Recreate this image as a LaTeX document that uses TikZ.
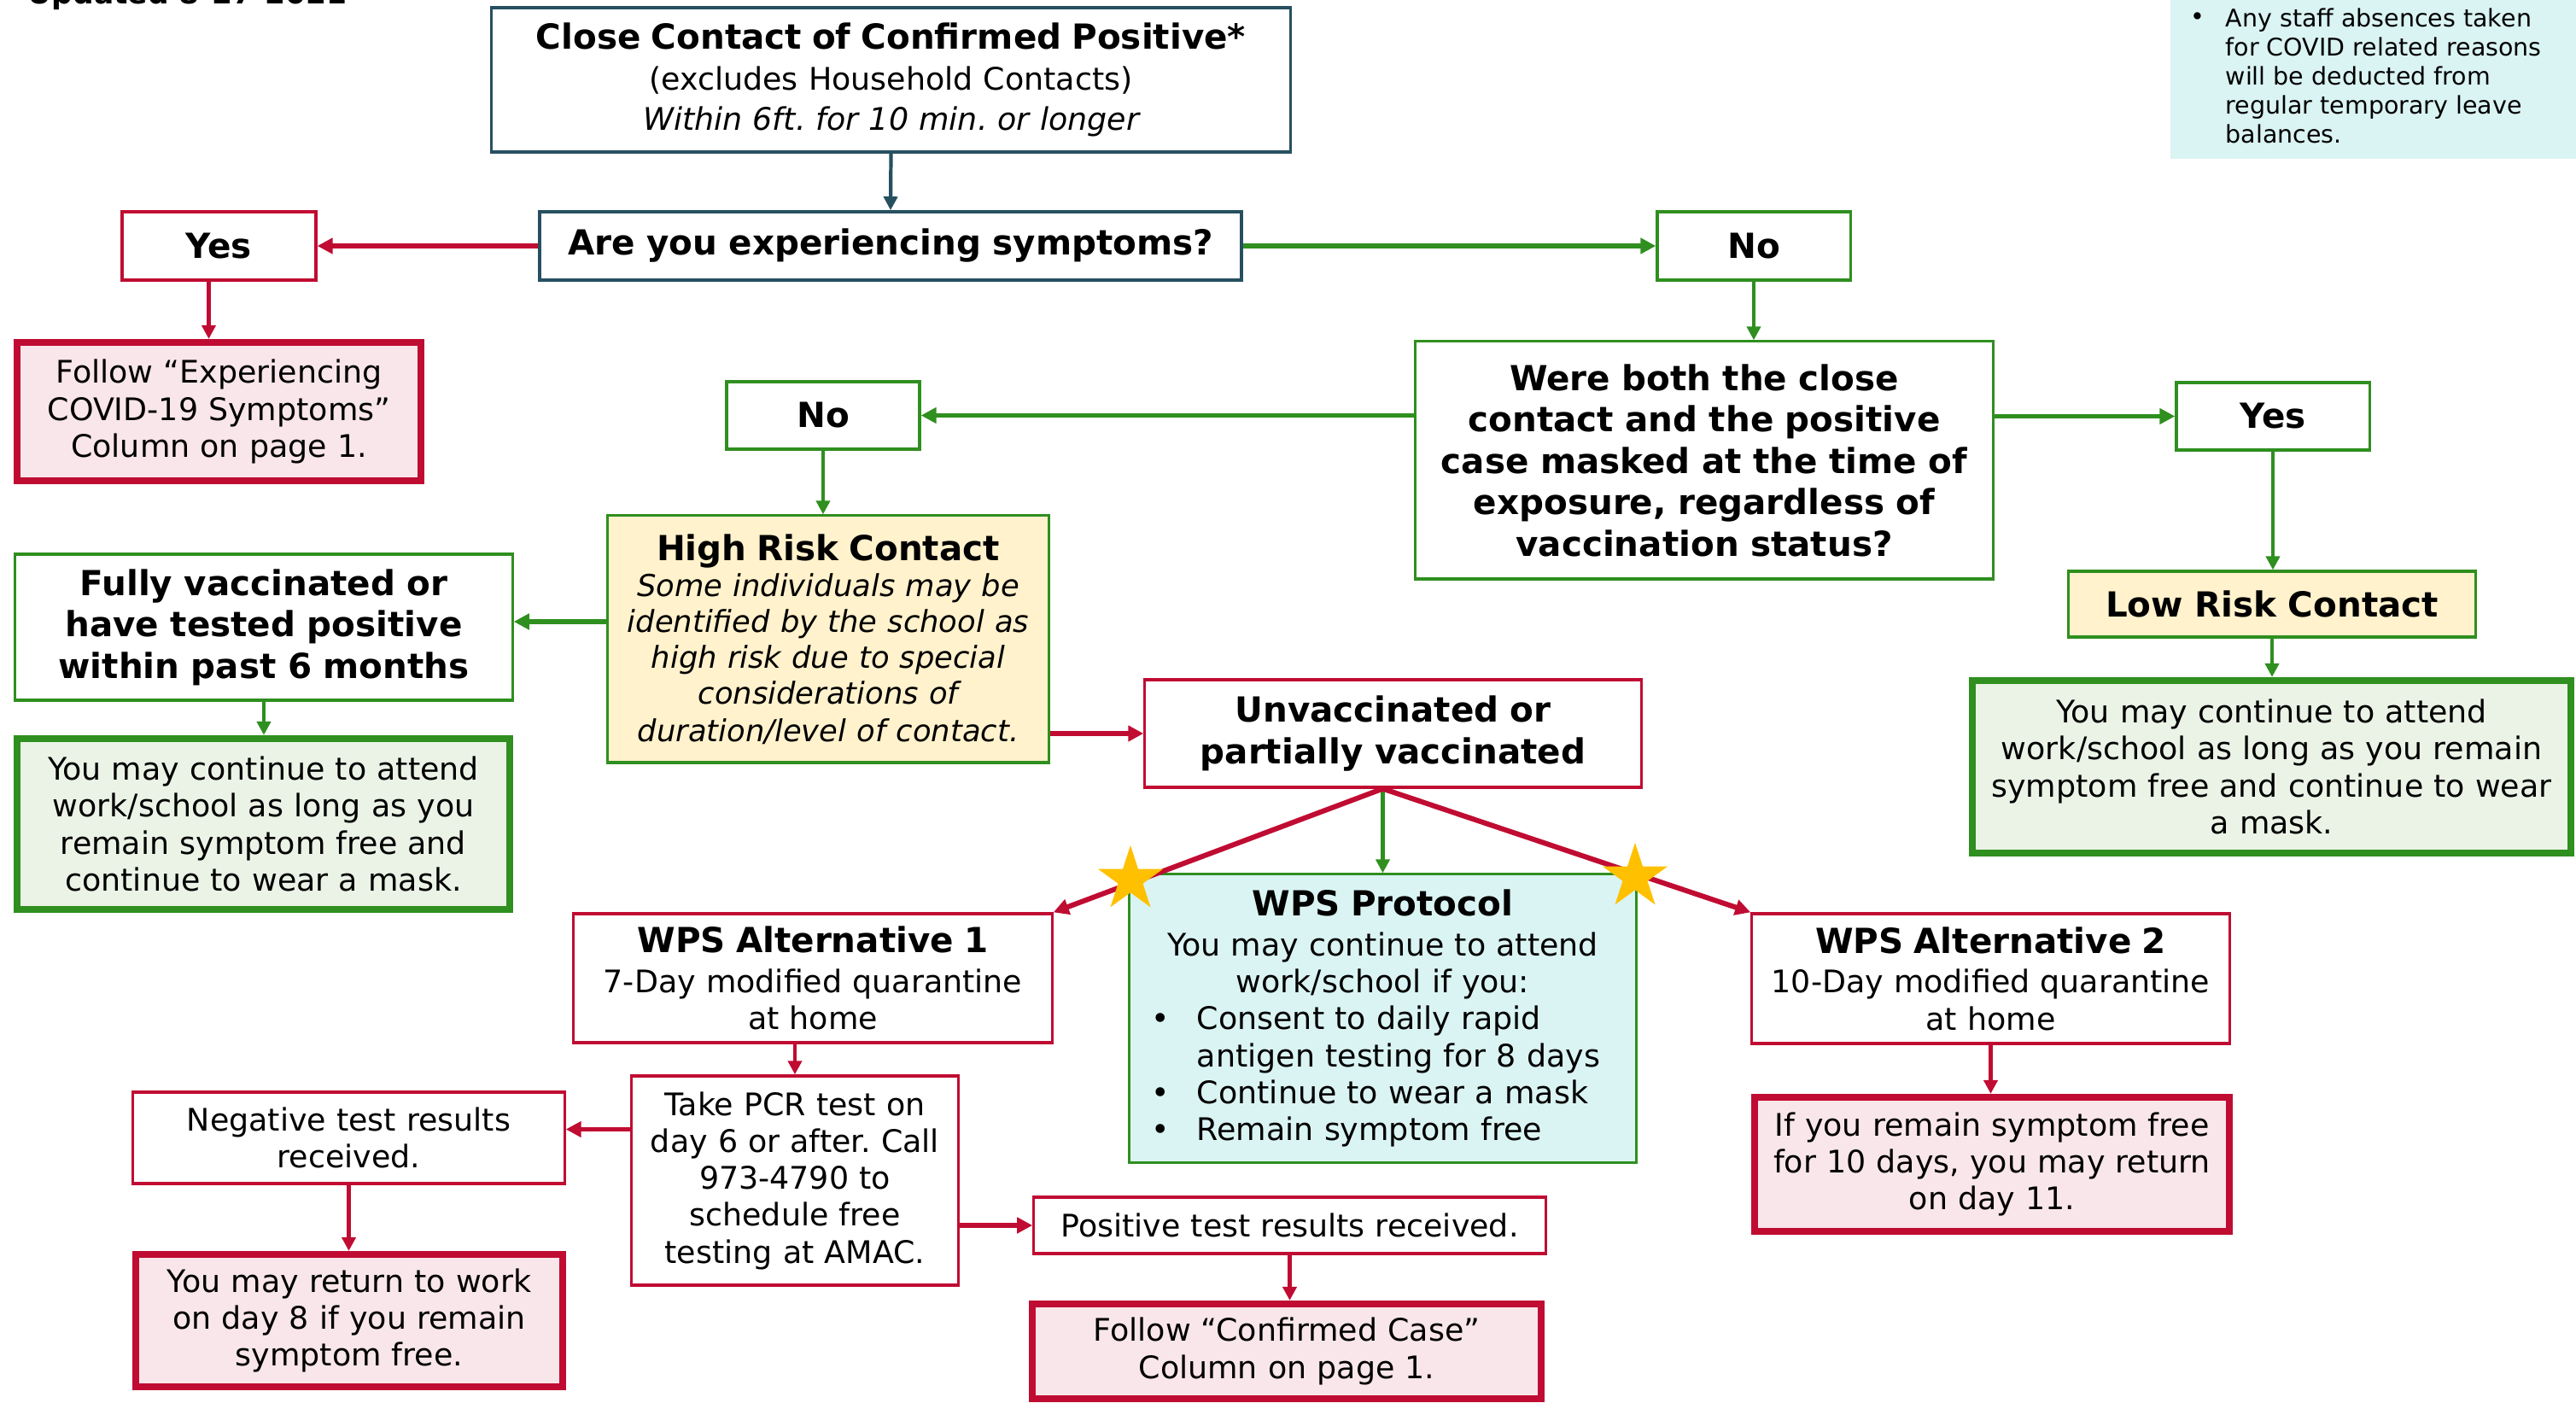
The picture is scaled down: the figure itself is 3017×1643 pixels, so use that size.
\documentclass[tikz,border=0pt]{standalone}
\usepackage{fontspec}
\setmainfont{DejaVu Sans}
\usetikzlibrary{arrows.meta,shapes.geometric}
\definecolor{cred}{RGB}{192,12,50}
\definecolor{cgreen}{RGB}{47,143,31}
\definecolor{cteal}{RGB}{38,80,96}
\definecolor{cpink}{RGB}{248,230,234}
\definecolor{clgreen}{RGB}{235,243,231}
\definecolor{cyellow}{RGB}{255,242,204}
\definecolor{ccyan}{RGB}{218,244,243}
\definecolor{cgold}{RGB}{255,192,0}
\newcommand\hdf{\fontsize{11.5}{13.8}\selectfont\bfseries}
\newcommand\bdf{\fontsize{10.35}{12.3}\selectfont}
\newcommand\itf{\fontsize{10.05}{12}\selectfont\itshape}
\newcommand\ntf{\fontsize{8.1}{9.7}\selectfont}
\frenchspacing
\tikzset{
  bx/.style 2 args={minimum width=#1cm, minimum height=#2cm, text width=#1cm,
     inner sep=0pt, align=center, font=\bdf},
  thinred/.style={draw=cred, line width=0.9pt, fill=white},
  thingreen/.style={draw=cgreen, line width=0.9pt, fill=white},
  thinteal/.style={draw=cteal, line width=1pt, fill=white},
  resred/.style={draw=cred, line width=2.3pt, fill=cpink},
  resgreen/.style={draw=cgreen, line width=2.3pt, fill=clgreen},
  yellowbox/.style={draw=cgreen, line width=0.9pt, fill=cyellow},
  cyanbox/.style={draw=cgreen, line width=0.9pt, fill=ccyan},
  arrh/.style={-{Triangle[length=0.18cm,width=0.18cm]}, line width=1.7pt},
  arrv/.style={-{Triangle[length=0.16cm,width=0.16cm]}, line width=1.2pt},
  goldstar/.style={star, star points=5, star point ratio=2.618, fill=cgold,
     inner sep=0pt, minimum size=0.8cm}
}
\begin{document}
\begin{tikzpicture}[x=0.01cm,y=-0.01cm]
\useasboundingbox (0,0) rectangle (3017,1643);

% header and note
\node[anchor=base west, inner sep=0pt, font=\fontsize{9.8}{12}\selectfont\bfseries] (upd) at (32,5) {Updated 8-27-2021};
\node[fill=ccyan, minimum width=4.75cm, minimum height=2.06cm, inner sep=0pt] (note) at (2779.5,83) {};
\node[anchor=base west, inner sep=0pt, font=\ntf] (notebul) at (2565,30) {•};
\node[anchor=north west, inner sep=0pt, align=left, font=\ntf] (notetxt) at (2606,9)
  {Any staff absences taken\\for COVID related reasons\\will be deducted from\\regular temporary leave\\balances.};

% boxes
\node[bx={9.35}{1.69}, thinteal] (top) at (1043.5,93.5)
  {{\hdf Close Contact of Confirmed Positive*}\\[1.3pt](excludes Household Contacts)\\[1.3pt]\itshape Within 6ft. for 10 min. or longer};
\node[bx={8.22}{0.80}, thinteal, font=\hdf] (sym) at (1043,288) {Are you experiencing symptoms?};
\node[bx={2.27}{0.80}, thinred, font=\hdf] (yes1) at (256.5,288) {Yes};
\node[bx={4.73}{1.62}, resred] (fol1) at (256.5,482) {Follow “Experiencing\\COVID-19 Symptoms”\\Column on page 1.};
\node[bx={2.26}{0.80}, thingreen, font=\hdf] (no1) at (2054,288) {No};
\node[bx={6.76}{2.78}, thingreen, font=\hdf] (were) at (1996,539)
  {Were both the close\\contact and the positive\\case masked at the time of\\exposure, regardless of\\vaccination status?\\[0.1cm]};
\node[bx={2.26}{0.79}, thingreen, font=\hdf] (no2) at (964,486.5) {No};
\node[bx={2.26}{0.79}, thingreen, font=\hdf] (yes2) at (2662,487.5) {Yes};
\node[bx={4.76}{0.77}, yellowbox, font=\hdf] (low) at (2661,707.5) {Low Risk Contact};
\node[bx={7.01}{2.02}, resgreen] (lowres) at (2660.5,898)
  {You may continue to attend\\work/school as long as you remain\\symptom free and continue to wear\\a mask.\\[0.1cm]};
\node[bx={5.16}{2.89}, yellowbox] (high) at (970,748.5)
  {{\hdf High Risk Contact}\\\itf Some individuals may be\\identified by the school as\\high risk due to special\\considerations of\\duration/level of contact.};
\node[bx={5.82}{1.71}, thingreen, font=\hdf] (fully) at (309,734.5)
  {Fully vaccinated or\\have tested positive\\within past 6 months};
\node[bx={5.77}{2.00}, resgreen] (fullres) at (308.5,965)
  {You may continue to attend\\work/school as long as you\\remain symptom free and\\continue to wear a mask.};
\node[bx={5.81}{1.26}, thinred, font=\hdf] (unv) at (1631.5,859) {Unvaccinated or\\partially vaccinated};
\node[bx={5.93}{3.37}, cyanbox, align=left, text width=5.41cm, inner xsep=0.26cm] (wps) at (1619.5,1192.5)
  {{\centering{\hdf WPS Protocol}\\[1pt]You may continue to attend\\work/school if you:\par}
   \makebox[0.53cm][l]{•}Consent to daily rapid\\
   \hspace*{0.53cm}antigen testing for 8 days\\
   \makebox[0.53cm][l]{•}Continue to wear a mask\\
   \makebox[0.53cm][l]{•}Remain symptom free};
\node[bx={5.60}{1.51}, thinred] (alt1) at (952,1145.5)
  {{\hdf WPS Alternative 1}\\[1pt]7-Day modified quarantine\\at home};
\node[bx={5.59}{1.52}, thinred] (alt2) at (2331.5,1146)
  {{\hdf WPS Alternative 2}\\[1pt]10-Day modified quarantine\\at home};
\node[bx={5.56}{1.57}, resred] (alt2res) at (2333,1363.5)
  {If you remain symptom free\\for 10 days, you may return\\on day 11.};
\node[bx={3.82}{2.45}, thinred] (pcr) at (931,1382.5)
  {Take PCR test on\\day 6 or after. Call\\973-4790 to\\schedule free\\testing at AMAC.};
\node[bx={5.05}{1.07}, thinred] (neg) at (408.5,1332.5) {Negative test results\\received.};
\node[bx={5.00}{1.55}, resred] (ret) at (409,1546.5)
  {You may return to work\\on day 8 if you remain\\symptom free.};
\node[bx={5.99}{0.66}, thinred] (pos) at (1510.5,1435) {Positive test results received.};
\node[bx={5.96}{1.11}, resred] (conf) at (1507,1582.5) {Follow “Confirmed Case”\\Column on page 1.};

% connectors
\draw[arrv, cteal] (top.south) -- (sym.north);
\draw[arrh, cred] (sym.west) -- (yes1.east);
\draw[arrv, cred] ([xshift=-0.12cm]yes1.south) -- ([xshift=-0.12cm]fol1.north);
\draw[arrh, cgreen] (sym.east) -- (no1.west);
\draw[arrv, cgreen] (no1.south) -- (no1.south |- were.north);
\draw[arrh, cgreen] (were.west |- no2.east) -- (no2.east);
\draw[arrh, cgreen] (were.east |- yes2.west) -- (yes2.west);
\draw[arrv, cgreen] (no2.south) -- (no2.south |- high.north);
\draw[arrv, cgreen] (yes2.south) -- (yes2.south |- low.north);
\draw[arrv, cgreen] (low.south) -- (low.south |- lowres.north);
\coordinate (fin) at ([yshift=0.065cm]fully.east);
\draw[arrh, cgreen] (high.west |- fin) -- (fin);
\draw[arrv, cgreen] (fully.south) -- (fully.south |- fullres.north);
\draw[arrh, cred] (high.east |- unv.west) -- (unv.west);
\coordinate (split) at (wps.north |- unv.south);
\draw[arrv, cgreen] (split) -- (wps.north);
\draw[arrh, cred] (split) -- (alt1.north east);
\draw[arrh, cred] (split) -- (alt2.north west);
\draw[arrv, cred] (pcr.north |- alt1.south) -- (pcr.north);
\coordinate (negin) at ([yshift=0.1cm]neg.east);
\draw[arrh, cred] (pcr.west |- negin) -- (negin);
\draw[arrv, cred] (neg.south) -- (neg.south |- ret.north);
\draw[arrh, cred] (pcr.east |- pos.west) -- (pos.west);
\draw[arrv, cred] (pos.south) -- (pos.south |- conf.north);
\draw[arrv, cred] (alt2.south) -- (alt2.south |- alt2res.north);

% stars
\node[goldstar] (star1) at (1324,1030) {};
\node[goldstar] (star2) at (1915,1027) {};
\end{tikzpicture}
\end{document}
